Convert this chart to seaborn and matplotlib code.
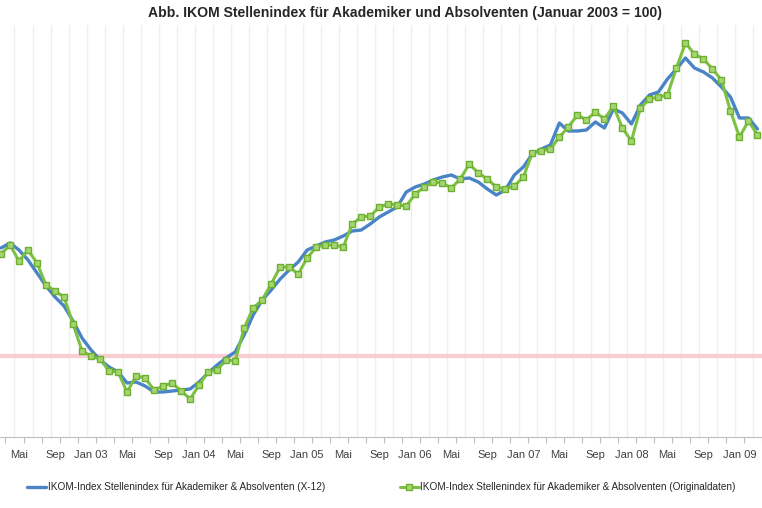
import numpy as np
import pandas as pd
import matplotlib
matplotlib.use('agg')
import matplotlib.pyplot as plt
import seaborn as sns
sns.set_style('white')
plt.rcParams['font.family'] = ['Liberation Sans', 'DejaVu Sans']

# monthly index, Mar 2002 .. Mar 2009 (Januar 2003 = 100)
months = pd.date_range('2002-03-01', periods=85, freq='MS')

x12 = [154, 156.5, 153, 148, 141.5, 135, 129.5, 125, 117.5, 109,
       103, 98, 94.5, 92, 86.5, 87, 85, 82, 82, 82.5,
       83, 83.5, 87, 91.5, 95.5, 99, 102, 110.5, 120.5, 128,
       133, 138.5, 143, 147, 153, 155, 157, 158, 160, 162.5,
       163, 166, 169.5, 172, 174.5, 182, 184.5, 186, 188, 189.5,
       190.5, 188.5, 189, 187, 183.5, 180.5, 183, 190.5, 194.5, 201,
       203.5, 205.5, 216.5, 212.5, 212.5, 213, 217, 214, 223.5, 221.5,
       216, 225.5, 230.5, 232, 238.5, 243.5, 249, 244, 242, 239,
       234.5, 229.5, 219, 219, 213.5]

original = [151, 155.5, 147.5, 153, 146.5, 135.5, 132.5, 129.5, 116, 102.5,
            100, 98.5, 92.5, 92, 82, 90, 89, 83, 85, 86.5,
            82.5, 78.5, 85.5, 92, 93, 98, 97.5, 114, 124, 128,
            136, 144.5, 144.5, 141, 149, 154.5, 155.5, 155.5, 154.5, 166,
            169.5, 170, 174.5, 176, 175.5, 175, 181, 184.5, 187, 186.5,
            184, 188.5, 196, 191.5, 188.5, 184.5, 183.5, 185, 189.5, 201.5,
            202.5, 203.5, 209.5, 214.5, 220.5, 218, 222, 218.5, 225, 214,
            207.5, 224, 228.5, 229.5, 230.5, 244, 256.5, 251, 248.5, 243.5,
            238, 222.5, 209.5, 217.5, 210.5]

tick_labels = ['Mai', 'Sep', 'Jan 03', 'Mai', 'Sep', 'Jan 04', 'Mai', 'Sep',
               'Jan 05', 'Mai', 'Sep', 'Jan 06', 'Mai', 'Sep', 'Jan 07', 'Mai',
               'Sep', 'Jan 08', 'Mai', 'Sep', 'Jan 09']

label_x12 = 'IKOM-Index Stellenindex für Akademiker & Absolventen (X-12)'
label_orig = 'IKOM-Index Stellenindex für Akademiker & Absolventen (Originaldaten)'
title = 'Abb. IKOM Stellenindex für Akademiker und Absolventen (Januar 2003 = 100)'

df = pd.DataFrame({'idx': np.arange(len(months)), 'month': months,
                   'x12': x12, 'original': original})

fig = plt.figure(figsize=(7.62, 5.08), dpi=100)
ax = fig.add_axes([0, 1 - 437 / 508, 1, 412 / 508])

# light vertical grid every second month, pink reference line at 100
for g in np.arange(1.5, len(df), 2):
    ax.axvline(g, color='#efefef', lw=1, zorder=0)
ax.axhline(100, color='#f9cdd1', lw=3, zorder=1)

sns.lineplot(data=df, x='idx', y='x12', ax=ax, color='#4a84c6', lw=2.4,
             label=label_x12, zorder=3)
sns.lineplot(data=df, x='idx', y='original', ax=ax, color='#7cc142', lw=2.2,
             marker='s', markersize=4.5, markerfacecolor='#a5d672',
             markeredgecolor='#6db030', markeredgewidth=1,
             label=label_orig, zorder=4)

ax.set_xlim(-0.11, 83.87)
ax.set_ylim(59.5, 265.5)
ax.set_xticks(np.arange(2, len(df), 4))
ax.set_xticklabels(tick_labels)
ax.set_xticks(np.arange(0.5, len(df), 2), minor=True)
ax.tick_params(axis='x', which='major', length=0, pad=9, labelsize=8, labelcolor='#404040')
ax.tick_params(axis='x', which='minor', length=4, width=0.8, color='#bfbfbf', bottom=True)
ax.set_yticks([])
ax.set_xlabel('')
ax.set_ylabel('')
for s in ['top', 'left', 'right']:
    ax.spines[s].set_visible(False)
ax.spines['bottom'].set_color('#bfbfbf')
ax.spines['bottom'].set_linewidth(0.8)

handles, labels = ax.get_legend_handles_labels()
ax.get_legend().remove()
fig.legend(handles, labels, loc='center', bbox_to_anchor=(381.5 / 762, 1 - 487 / 508),
           ncol=2, frameon=False, fontsize=7.2, columnspacing=7.5, handlelength=1.9,
           handletextpad=0.15, labelcolor='#262626')

fig.text(405 / 762, 1 - 13 / 508, title, ha='center', va='center',
         fontsize=10.1, fontweight='bold', color='#262626')

fig.savefig('out.png', dpi=100)
